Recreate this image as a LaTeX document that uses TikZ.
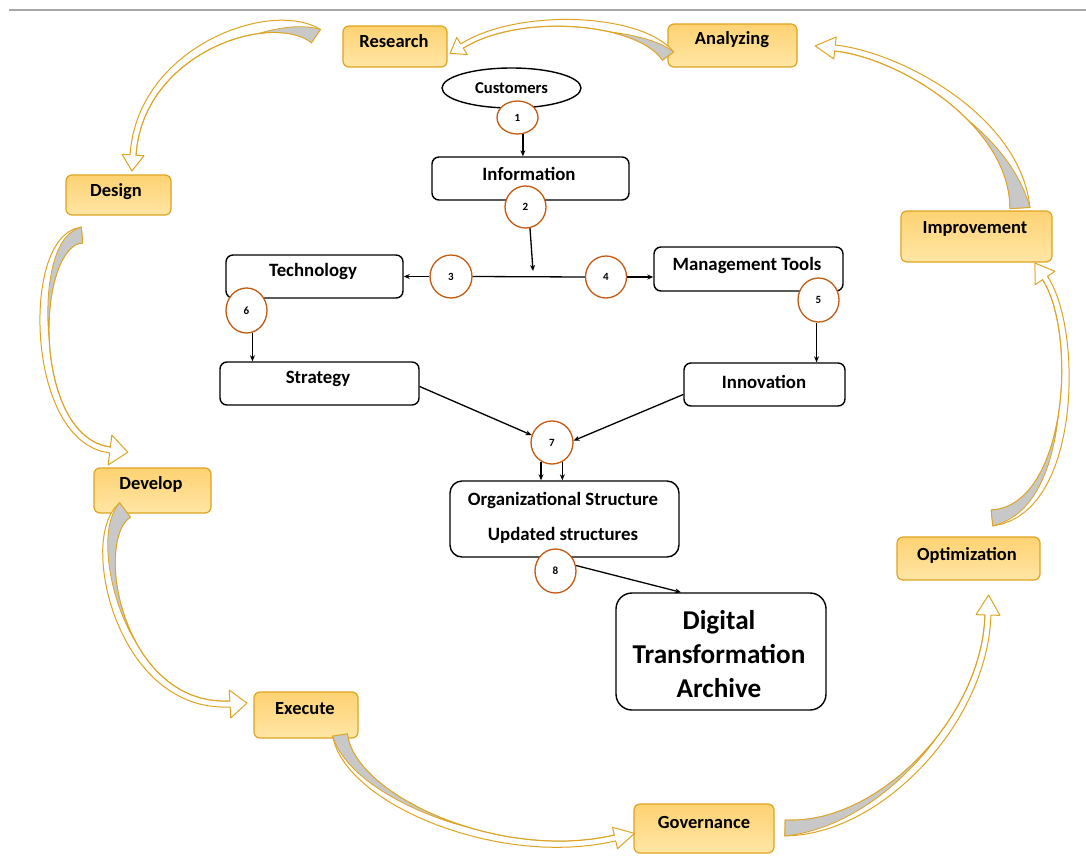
\documentclass[tikz,border=0pt]{standalone}
\usepackage{fontspec}
\setmainfont{Carlito}
\usetikzlibrary{arrows.meta,calc,shapes.geometric}
\definecolor{gold}{RGB}{222,164,32}
\definecolor{boxtop}{RGB}{254,210,115}
\definecolor{boxbot}{RGB}{255,230,165}
\definecolor{cgray}{RGB}{200,200,200}
\definecolor{cbrown}{RGB}{197,90,17}
\definecolor{topline}{RGB}{166,166,166}
\tikzset{
 obox/.style={draw=gold, line width=1.2pt, rounded corners=6pt, top color=boxtop, bottom color=boxbot, inner sep=0pt},
 otext/.style={font=\fontsize{18.5}{22}\selectfont\bfseries, inner sep=0pt},
 bbox/.style={draw=black, line width=1.4pt, rounded corners=7pt, fill=white, inner sep=0pt},
 btext/.style={font=\fontsize{18.8}{22}\selectfont\bfseries, inner sep=0pt},
 numc/.style={ellipse, draw=cbrown, line width=1.3pt, fill=white, inner sep=0pt, font=\fontsize{11}{13}\selectfont\bfseries},
 blk/.style={draw=black, line width=1.3pt, -{Stealth[length=6pt,width=5pt]}},
 cawhite/.style={fill=white, draw=gold, line width=1pt, line join=round},
 cagray/.style={fill=cgray, draw=gold, line width=0.8pt, line join=round}
}
\newcommand\caset[5]{\def\caWa{#1}\def\caWb{#2}\def\caHW{#3}\def\caHL{#4}\def\caTG{#5}}
\def\carrow#1(#2,#3)(#4,#5)(#6,#7)(#8,#9){%
\foreach \i in {0,...,30}{%
 \pgfmathsetmacro\caT{\i/30}%
 \pgfmathsetmacro\caU{1-\caT}%
 \pgfmathsetmacro\caBx{\caU*\caU*\caU*(#2)+3*\caU*\caU*\caT*(#4)+3*\caU*\caT*\caT*(#6)+\caT*\caT*\caT*(#8)}%
 \pgfmathsetmacro\caBy{\caU*\caU*\caU*(#3)+3*\caU*\caU*\caT*(#5)+3*\caU*\caT*\caT*(#7)+\caT*\caT*\caT*(#9)}%
 \pgfmathsetmacro\caDx{3*\caU*\caU*((#4)-(#2))+6*\caU*\caT*((#6)-(#4))+3*\caT*\caT*((#8)-(#6))}%
 \pgfmathsetmacro\caDy{3*\caU*\caU*((#5)-(#3))+6*\caU*\caT*((#7)-(#5))+3*\caT*\caT*((#9)-(#7))}%
 \pgfmathsetmacro\caL{veclen(\caDx,\caDy)}%
 \pgfmathsetmacro\caNx{0-(\caDy)/\caL}%
 \pgfmathsetmacro\caNy{(\caDx)/\caL}%
 \pgfmathsetmacro\caW{(\caWb+(\caWa-\caWb)*\caU*\caU)/2}%
 \pgfmathsetmacro\caG{max(0,1-\caT/\caTG)}%
 \coordinate (#1o\i) at ({\caBx+(\caNx)*\caW},{\caBy+(\caNy)*\caW});%
 \coordinate (#1i\i) at ({\caBx-(\caNx)*\caW},{\caBy-(\caNy)*\caW});%
 \coordinate (#1g\i) at ({\caBx-(\caNx)*\caW+2*(\caNx)*\caW*\caG},{\caBy-(\caNy)*\caW+2*(\caNy)*\caW*\caG});%
}%
\pgfmathsetmacro\caL{veclen((#8)-(#6),(#9)-(#7))}%
\pgfmathsetmacro\caDx{((#8)-(#6))/\caL}%
\pgfmathsetmacro\caDy{((#9)-(#7))/\caL}%
\coordinate (#1hO) at ({#8-(\caDy)*\caHW},{#9+(\caDx)*\caHW});%
\coordinate (#1hI) at ({#8+(\caDy)*\caHW},{#9-(\caDx)*\caHW});%
\coordinate (#1tp) at ({#8+(\caDx)*\caHL},{#9+(\caDy)*\caHL});%
\filldraw[cawhite] (#1o0) \foreach \i in {1,...,30}{ -- (#1o\i)} -- (#1hO) -- (#1tp) -- (#1hI) \foreach \i in {30,...,0}{ -- (#1i\i)} -- cycle;%
\filldraw[cagray] (#1i0) \foreach \i in {1,...,30}{ -- (#1i\i)} \foreach \i in {30,...,0}{ -- (#1g\i)} -- cycle;%
}
\begin{document}
\begin{tikzpicture}[x=1pt,y=-1pt]
\useasboundingbox (0,0) rectangle (1086,859);
\fill[white] (0,0) rectangle (1086,859);
\draw[topline, line width=2pt] (9,10.5) -- (1086,10.5);

% orange cycle boxes
\node[obox, minimum width=104, minimum height=41] (research) at (395,46.5) {};
\node[otext] (research-t) at (394,41) {Research};
\node[obox, minimum width=129, minimum height=43] (analyzing) at (732.5,45.5) {};
\node[otext] (analyzing-t) at (732,40) {Analyzing};
\node[obox, minimum width=105, minimum height=40] (design) at (118.5,195) {};
\node[otext] (design-t) at (116,192) {Design};
\node[obox, minimum width=151, minimum height=51] (improvement) at (976.5,236.5) {};
\node[otext] (improvement-t) at (975,229) {Improvement};
\node[obox, minimum width=117, minimum height=45] (develop) at (152.5,490.5) {};
\node[otext] (develop-t) at (151,484) {Develop};
\node[obox, minimum width=143, minimum height=43] (optimization) at (968.5,558.5) {};
\node[otext] (optimization-t) at (967,555) {Optimization};
\node[obox, minimum width=104, minimum height=46] (execute) at (306,715) {};
\node[otext] (execute-t) at (305,709) {Execute};
\node[obox, minimum width=140, minimum height=49] (governance) at (704,828.5) {};
\node[otext] (governance-t) at (704,822) {Governance};

% curved cycle arrows
\caset{14}{5}{10}{14}{0.35}
\carrow{aA}(668,56)(640,18)(520,10)(462,46)
\caset{16}{6}{11}{16}{0.3}
\carrow{aB}(316,36)(270,5)(140,50)(133,155)
\caset{16}{6}{15}{18}{0.5}
\carrow{aC}(82,235)(28,240)(28,440)(110,450)
\caset{18}{6}{14}{17}{0.6}
\carrow{aD}(125,510)(85,540)(120,710)(230,704)
\caset{15}{6}{11}{20}{0.6}
\carrow{aE}(340,735)(350,800)(500,865)(615,838)
\caset{16}{6}{12}{20}{0.6}
\carrow{aF}(785,828)(880,830)(985,720)(988,615)
\caset{16}{6}{12}{18}{0.5}
\carrow{aG}(992,518)(1075,510)(1080,330)(1045,278)
\caset{20}{6}{11}{20}{0.4}
\carrow{aH}(1020,208)(1015,120)(900,55)(835,48)

% central flow
\node[ellipse, draw=black, line width=1.4pt, fill=white, minimum width=139, minimum height=40, inner sep=0pt, font=\fontsize{16.6}{19}\selectfont\bfseries] (customers) at (511.5,88) {Customers};
\node[bbox, minimum width=197, minimum height=43] (info) at (530.5,178.5) {};
\node[btext] (info-t) at (529,174) {Information};
\node[bbox, minimum width=177, minimum height=43] (tech) at (314.5,276.5) {};
\node[btext] (tech-t) at (313,271) {Technology};
\node[bbox, minimum width=189, minimum height=44] (mt) at (748.5,269) {};
\node[btext] (mt-t) at (747,265) {Management Tools};
\node[bbox, minimum width=199, minimum height=43] (strategy) at (319.5,383.5) {};
\node[btext] (strategy-t) at (318,379) {Strategy};
\node[bbox, minimum width=161, minimum height=43] (innovation) at (764.5,384.5) {};
\node[btext] (innovation-t) at (764,382) {Innovation};
\node[bbox, rounded corners=12pt, minimum width=229, minimum height=76] (org) at (564.5,519) {};
\node[btext] (org-t1) at (563,500) {Organizational Structure};
\node[btext] (org-t2) at (563,535) {Updated structures};
\node[bbox, rounded corners=16pt, minimum width=210, minimum height=117] (dta) at (721,651.5) {};
\node[font=\fontsize{27.2}{34}\selectfont\bfseries, align=center, inner sep=0pt] (dta-t) at (719,654) {Digital\\Transformation\\Archive};

% numbered circles
\node[numc, minimum width=41, minimum height=33] (c1) at (517.5,117.5) {1};
\node[numc, minimum width=41, minimum height=42] (c2) at (525.5,207) {2};
\node[numc, minimum width=42, minimum height=43] (c3) at (451,276.5) {3};
\node[numc, minimum width=41, minimum height=42] (c4) at (606,277) {4};
\node[numc, minimum width=41, minimum height=44] (c5) at (818.5,300) {5};
\node[numc, minimum width=41, minimum height=45] (c6) at (246.5,310.5) {6};
\node[numc, minimum width=42, minimum height=43] (c7) at (552,442.5) {7};
\node[numc, minimum width=41, minimum height=44] (c8) at (555.5,571) {8};

% black connectors
\draw[blk] (c1.-72) -- (c1.-72 |- info.north);
\coordinate (junc) at (533,271);
\draw[line width=1.3pt] (c3.east) -- (c4.west);
\draw[blk] (c2.-78) -- (junc);
\draw[blk] (c3.west) -- (c3.west -| tech.east);
\draw[blk] (c4.east) -- (c4.east -| mt.west);
\draw[blk] (c5.-95) -- (c5.-95 |- innovation.north);
\draw[blk] (c6.-75) -- (c6.-75 |- strategy.north);
\draw[blk] (strategy.east) ++(0,3) -- (c7.160);
\draw[blk] (innovation.west) ++(0,10) -- (c7.5);
\draw[blk] (c7.-120) -- (c7.-120 |- org.north);
\draw[blk] (c7.-62) -- (c7.-62 |- org.north);
\draw[blk] (c8.15) -- ($(dta.north)+(-40,0)$);
\end{tikzpicture}
\end{document}
